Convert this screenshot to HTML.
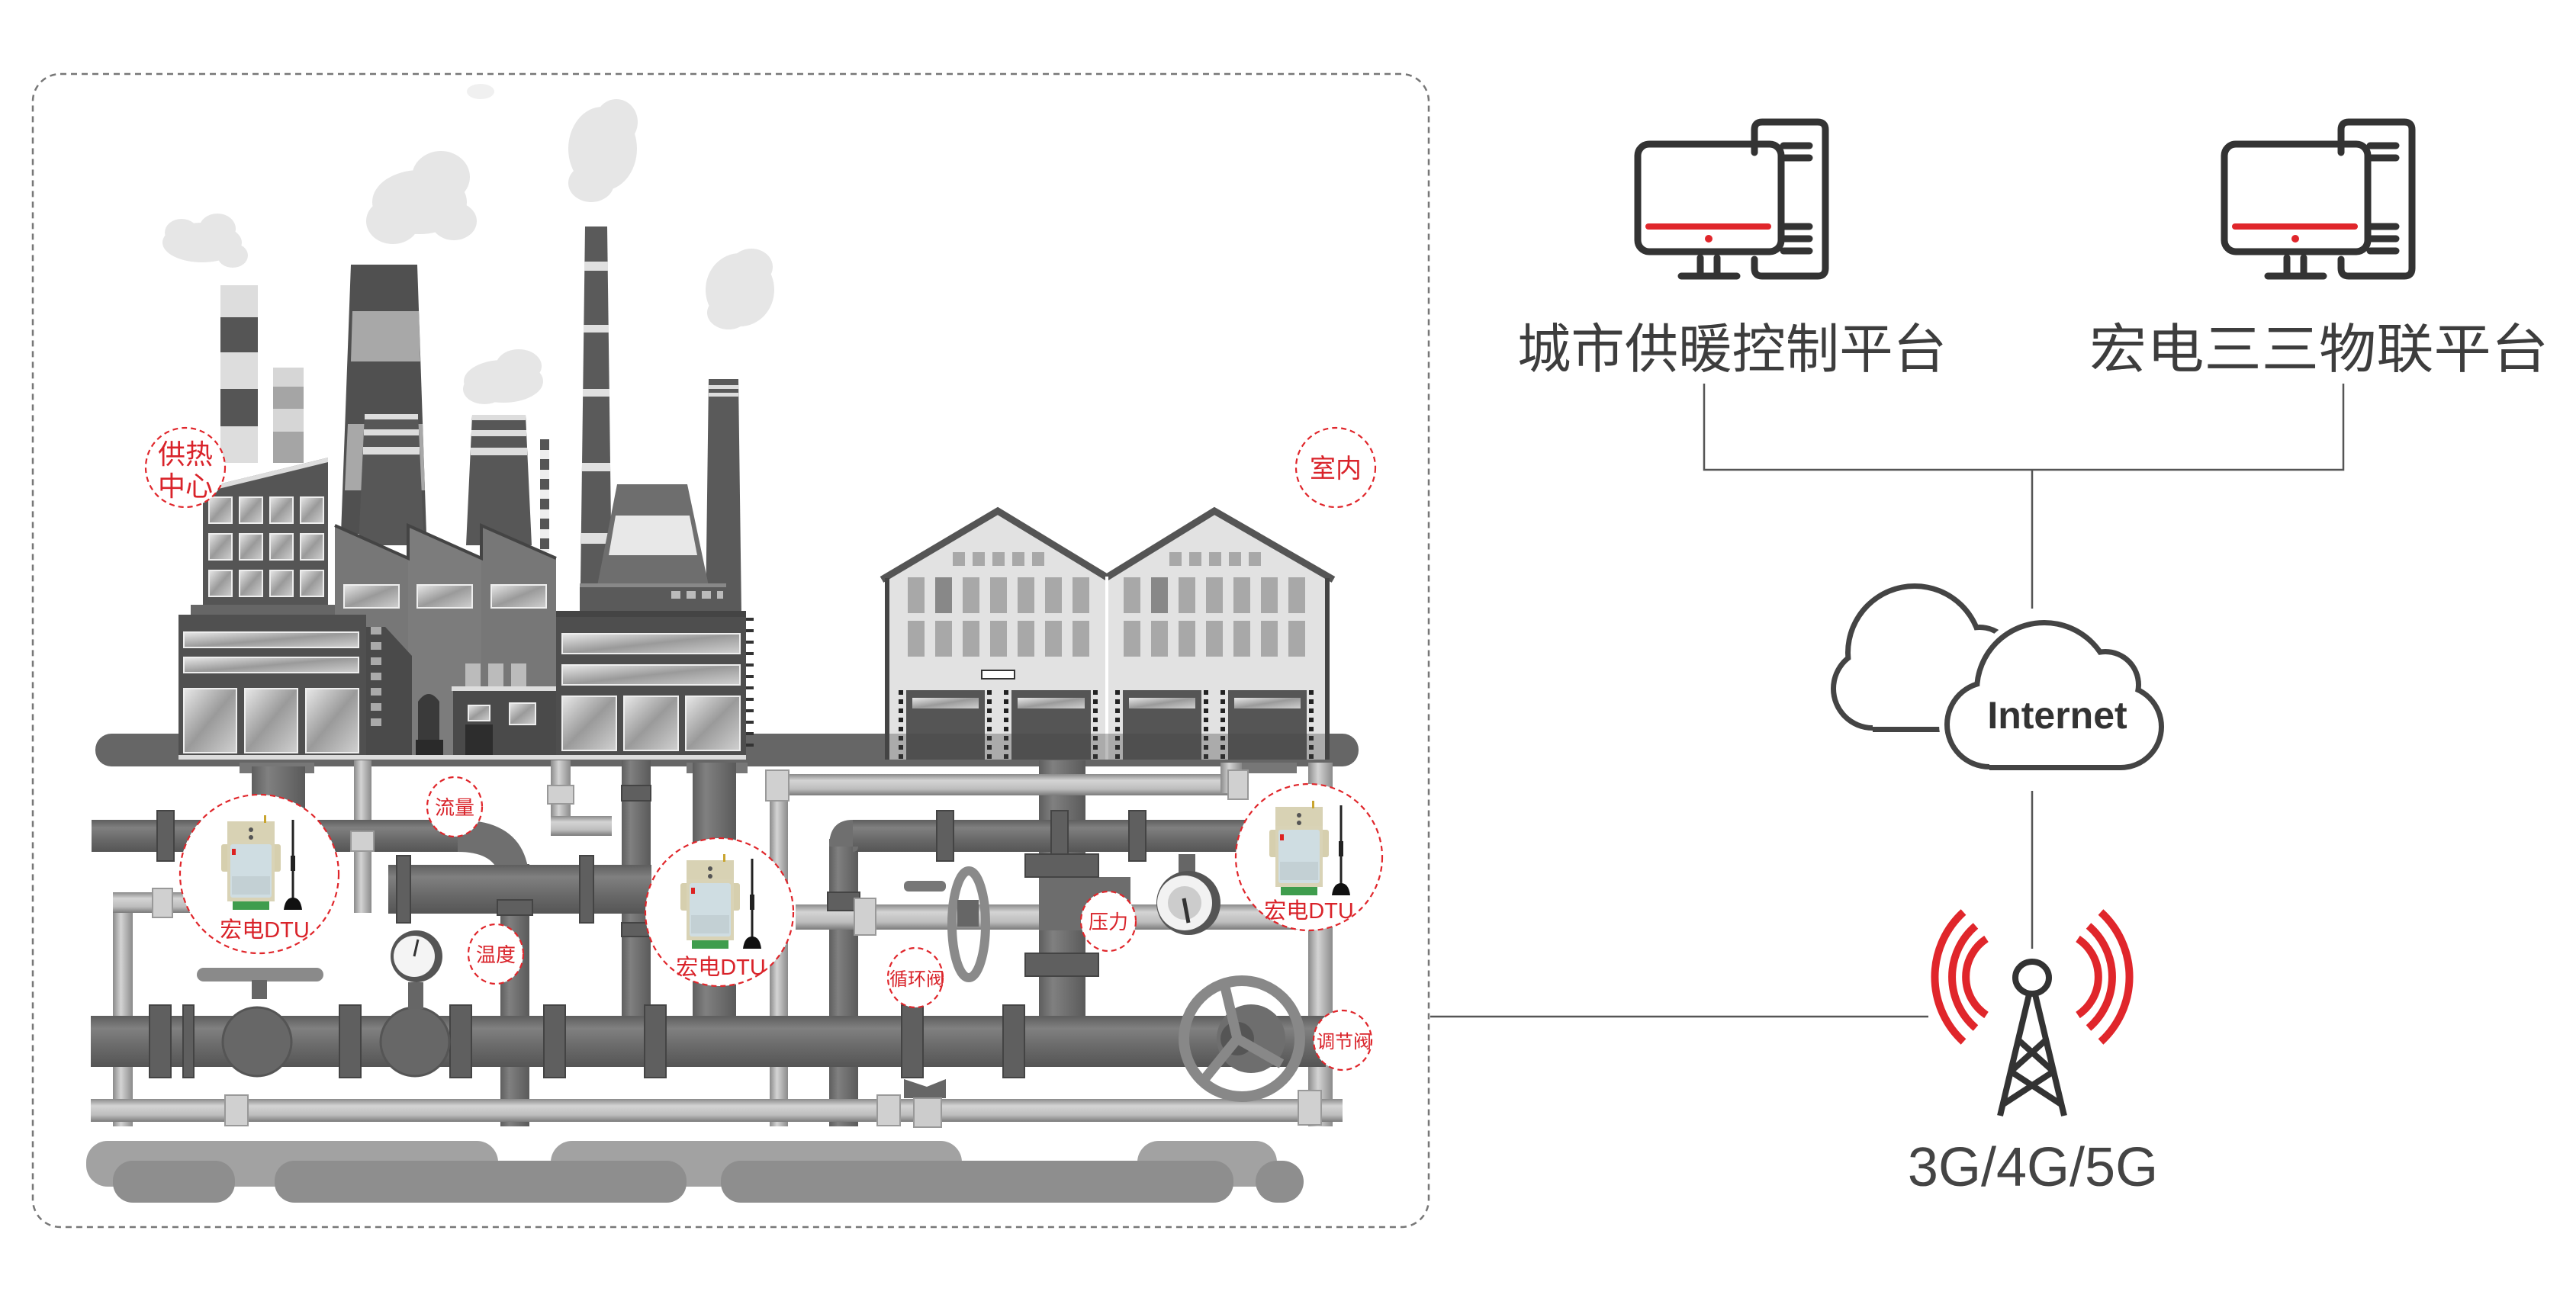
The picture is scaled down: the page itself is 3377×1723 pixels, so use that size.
<!DOCTYPE html>
<html><head><meta charset="utf-8"><style>
html,body{margin:0;padding:0;background:#fff;}
svg{display:block;}
text{font-family:"Liberation Sans","Noto Sans CJK SC",sans-serif;}
</style></head><body>
<svg width="3377" height="1723" viewBox="0 0 3377 1723" xmlns="http://www.w3.org/2000/svg">
<defs>
<linearGradient id="win" x1="0" y1="0" x2="1" y2="1"><stop offset="0" stop-color="#e8e8e8"/><stop offset="0.5" stop-color="#9a9a9a"/><stop offset="1" stop-color="#d0d0d0"/></linearGradient>
<linearGradient id="dp" x1="0" y1="0" x2="0" y2="1"><stop offset="0" stop-color="#5e5e5e"/><stop offset="0.25" stop-color="#808080"/><stop offset="0.6" stop-color="#6a6a6a"/><stop offset="1" stop-color="#555"/></linearGradient>
<linearGradient id="dpv" x1="0" y1="0" x2="1" y2="0"><stop offset="0" stop-color="#5e5e5e"/><stop offset="0.3" stop-color="#808080"/><stop offset="1" stop-color="#5a5a5a"/></linearGradient>
<linearGradient id="lp" x1="0" y1="0" x2="0" y2="1"><stop offset="0" stop-color="#8a8a8a"/><stop offset="0.3" stop-color="#d4d4d4"/><stop offset="0.7" stop-color="#bdbdbd"/><stop offset="1" stop-color="#7a7a7a"/></linearGradient>
<linearGradient id="lpv" x1="0" y1="0" x2="1" y2="0"><stop offset="0" stop-color="#8a8a8a"/><stop offset="0.4" stop-color="#d4d4d4"/><stop offset="1" stop-color="#8a8a8a"/></linearGradient>
<g id="dtu">
<rect x="0" y="0" width="62" height="30" fill="#d8d2b4" stroke="#bbb3928" stroke-width="1"/>
<rect x="-8" y="30" width="78" height="36" rx="3" fill="#d6cfae"/>
<rect x="0" y="25" width="62" height="80" fill="#d9d3b6"/>
<rect x="4" y="30" width="54" height="70" rx="3" fill="#cfdde2"/>
<rect x="6" y="36" width="5" height="8" fill="#d22"/>
<rect x="6" y="72" width="50" height="24" fill="#c3d0d4"/>
<circle cx="31" cy="11" r="3" fill="#555"/><circle cx="31" cy="21" r="3" fill="#555"/>
<rect x="7" y="105" width="48" height="11" fill="#3f9d4d"/>
<rect x="48" y="-8" width="3" height="10" fill="#c9a530"/>
<line x1="86" y1="-2" x2="86" y2="105" stroke="#222" stroke-width="3"/>
<rect x="83" y="45" width="6" height="20" fill="#222"/>
<path d="M74,116 Q76,100 86,100 Q96,100 98,116 Z" fill="#111"/>
</g>
</defs>

<!-- dashed container -->
<rect x="43" y="97" width="1830" height="1512" rx="36" fill="none" stroke="#777" stroke-width="2.5" stroke-dasharray="8 6"/>

<!-- clouds left -->
<g fill="#e6e6e6">
<ellipse cx="265" cy="318" rx="52" ry="26"/><ellipse cx="238" cy="305" rx="22" ry="18"/><ellipse cx="285" cy="300" rx="24" ry="20"/><ellipse cx="305" cy="335" rx="20" ry="16"/>
<ellipse cx="550" cy="265" rx="62" ry="42"/><ellipse cx="578" cy="232" rx="38" ry="34"/><ellipse cx="515" cy="290" rx="35" ry="30"/><ellipse cx="595" cy="290" rx="30" ry="25"/>
<ellipse cx="790" cy="195" rx="45" ry="55"/><ellipse cx="808" cy="160" rx="28" ry="30"/><ellipse cx="775" cy="240" rx="30" ry="25"/>
<ellipse cx="660" cy="500" rx="52" ry="28"/><ellipse cx="680" cy="480" rx="30" ry="22"/><ellipse cx="635" cy="510" rx="28" ry="20"/>
<ellipse cx="970" cy="380" rx="45" ry="48"/><ellipse cx="985" cy="350" rx="28" ry="24"/><ellipse cx="955" cy="410" rx="28" ry="22"/>
<ellipse cx="630" cy="120" rx="18" ry="10" fill="#f0f0f0"/>
</g>

<!-- chimneys -->
<g>
<rect x="289" y="374" width="49" height="233" fill="#ddd"/>
<rect x="289" y="416" width="49" height="46" fill="#555"/><rect x="289" y="510" width="49" height="49" fill="#555"/>
<rect x="358" y="482" width="40" height="125" fill="#d6d6d6"/>
<rect x="358" y="507" width="40" height="29" fill="#a5a5a5"/><rect x="358" y="566" width="40" height="41" fill="#a5a5a5"/>
<polygon points="460,347 547,347 559,700 447,700" fill="#505050"/>
<polygon points="462,408 549,408 551,474 460,474" fill="#a8a8a8"/>
<polygon points="456,556 554,556 557,643 452,643" fill="#a8a8a8"/>
<polygon points="478,543 548,543 556,715 470,715" fill="#575757"/>
<rect x="478" y="543" width="70" height="7" fill="#ddd"/><rect x="477" y="563" width="72" height="8" fill="#ddd"/><rect x="476" y="586" width="74" height="10" fill="#ddd"/>
<polygon points="619,544 689,544 697,715 611,715" fill="#575757"/>
<rect x="619" y="544" width="70" height="7" fill="#ddd"/><rect x="618" y="564" width="72" height="8" fill="#ddd"/><rect x="617" y="587" width="74" height="10" fill="#ddd"/>
<rect x="708" y="576" width="12" height="148" fill="#eee"/>
<rect x="708" y="576" width="12" height="14" fill="#555"/><rect x="708" y="602" width="12" height="14" fill="#555"/><rect x="708" y="628" width="12" height="14" fill="#555"/><rect x="708" y="654" width="12" height="14" fill="#555"/><rect x="708" y="680" width="12" height="14" fill="#555"/><rect x="708" y="706" width="12" height="14" fill="#555"/>
<polygon points="767,297 796,297 802,765 761,765" fill="#5a5a5a"/>
<rect x="766" y="343" width="31" height="12" fill="#e0e0e0"/><rect x="765" y="426" width="33" height="10" fill="#e0e0e0"/><rect x="764" y="510" width="35" height="10" fill="#e0e0e0"/><rect x="763" y="607" width="37" height="11" fill="#e0e0e0"/><rect x="762" y="699" width="39" height="14" fill="#e0e0e0"/>
<polygon points="929,497 968,497 972,805 925,805" fill="#5a5a5a"/>
<rect x="929" y="505" width="39" height="5" fill="#ddd"/><rect x="929" y="515" width="39" height="5" fill="#ddd"/>
<polygon points="809,635 901,635 929,768 783,768" fill="#6e6e6e"/>
<polygon points="807,676 904,676 914,728 798,728" fill="#e8e8e8"/>
<rect x="760" y="765" width="192" height="38" fill="#5a5a5a"/>
<rect x="760" y="765" width="192" height="5" fill="#888"/>
<rect x="880" y="775" width="12" height="10" fill="#bbb"/><rect x="900" y="775" width="12" height="10" fill="#bbb"/><rect x="920" y="775" width="12" height="10" fill="#bbb"/><rect x="940" y="775" width="8" height="10" fill="#bbb"/>
</g>

<!-- ground bar -->
<rect x="125" y="962" width="1656" height="43" rx="21" fill="#666"/>

<!-- buildings -->
<polygon points="266,640 430,600 430,795 266,795" fill="#555"/>
<polygon points="266,640 430,600 430,606 266,646" fill="#ddd"/>
<g fill="url(#win)" stroke="#eee" stroke-width="2">
<rect x="274" y="652" width="30" height="34"/><rect x="314" y="652" width="30" height="34"/><rect x="354" y="652" width="30" height="34"/><rect x="394" y="652" width="30" height="34"/>
<rect x="274" y="700" width="30" height="34"/><rect x="314" y="700" width="30" height="34"/><rect x="354" y="700" width="30" height="34"/><rect x="394" y="700" width="30" height="34"/>
<rect x="274" y="748" width="30" height="34"/><rect x="314" y="748" width="30" height="34"/><rect x="354" y="748" width="30" height="34"/><rect x="394" y="748" width="30" height="34"/>
</g>
<rect x="250" y="793" width="213" height="15" fill="#666"/>
<!-- sawtooth shed -->
<polygon points="439,689 535,732 535,995 439,995" fill="#777"/>
<polygon points="535,689 631,732 631,995 535,995" fill="#7c7c7c"/>
<polygon points="631,689 729,732 729,995 631,995" fill="#777"/>
<polyline points="439,689 535,732 535,689 631,732 631,689 729,732" fill="none" stroke="#444" stroke-width="4"/>
<g fill="url(#win)" stroke="#eee" stroke-width="2"><rect x="451" y="767" width="72" height="30"/><rect x="547" y="767" width="72" height="30"/><rect x="644" y="767" width="72" height="30"/></g>
<!-- lower left -->
<rect x="234" y="806" width="246" height="190" fill="#505050"/>
<g fill="url(#win)" stroke="#eee" stroke-width="2">
<rect x="241" y="829" width="229" height="20"/><rect x="241" y="862" width="229" height="20"/>
<rect x="241" y="903" width="69" height="84"/><rect x="321" y="903" width="69" height="84"/><rect x="401" y="903" width="69" height="84"/>
</g>
<polygon points="480,822 505,822 540,860 540,995 480,995" fill="#4a4a4a"/>
<g fill="#aaa"><rect x="486" y="822" width="14" height="10"/><rect x="486" y="842" width="14" height="10"/><rect x="486" y="862" width="14" height="10"/><rect x="486" y="882" width="14" height="10"/><rect x="486" y="902" width="14" height="10"/><rect x="486" y="922" width="14" height="10"/><rect x="486" y="942" width="14" height="10"/></g>
<path d="M548,995 L548,920 Q562,900 576,920 L576,995 Z" fill="#3a3a3a"/>
<rect x="545" y="970" width="36" height="25" fill="#2a2a2a"/>
<!-- small middle -->
<rect x="594" y="905" width="137" height="91" fill="#4a4a4a"/>
<rect x="592" y="900" width="141" height="6" fill="#ddd"/>
<g fill="#bbb"><rect x="610" y="870" width="20" height="30"/><rect x="640" y="870" width="20" height="30"/><rect x="670" y="870" width="20" height="30"/></g>
<g fill="url(#win)" stroke="#eee" stroke-width="2"><rect x="614" y="925" width="28" height="20"/><rect x="668" y="922" width="34" height="28"/></g>
<rect x="610" y="950" width="36" height="46" fill="#2d2d2d"/>
<!-- right building -->
<rect x="729" y="808" width="249" height="188" fill="#4e4e4e"/>
<rect x="729" y="801" width="249" height="8" fill="#444"/>
<g fill="url(#win)" stroke="#eee" stroke-width="2">
<rect x="737" y="831" width="233" height="26"/><rect x="737" y="872" width="233" height="26"/>
<rect x="737" y="913" width="71" height="71"/><rect x="818" y="913" width="71" height="71"/><rect x="899" y="913" width="71" height="71"/>
</g>
<g fill="#333"><rect x="978" y="810" width="10" height="4"/><rect x="978" y="825" width="10" height="4"/><rect x="978" y="840" width="10" height="4"/><rect x="978" y="855" width="10" height="4"/><rect x="978" y="870" width="10" height="4"/><rect x="978" y="885" width="10" height="4"/><rect x="978" y="900" width="10" height="4"/><rect x="978" y="915" width="10" height="4"/><rect x="978" y="930" width="10" height="4"/><rect x="978" y="945" width="10" height="4"/><rect x="978" y="960" width="10" height="4"/><rect x="978" y="975" width="10" height="4"/></g>
<rect x="234" y="990" width="744" height="6" fill="#ddd"/>

<!-- warehouse -->
<polygon points="1160,758 1308,668 1451,755 1592,668 1743,758 1743,996 1160,996" fill="#e2e2e2"/>
<polyline points="1156,760 1308,670 1451,757 1592,670 1748,760" fill="none" stroke="#555" stroke-width="9"/>
<rect x="1160" y="758" width="6" height="238" fill="#444"/><rect x="1737" y="758" width="6" height="238" fill="#444"/>
<rect x="1449" y="756" width="4" height="240" fill="#fff"/>
<g fill="#a8a8a8">
<rect x="1249" y="724" width="16" height="18"/><rect x="1275" y="724" width="16" height="18"/><rect x="1301" y="724" width="16" height="18"/><rect x="1327" y="724" width="16" height="18"/><rect x="1353" y="724" width="16" height="18"/>
<rect x="1533" y="724" width="16" height="18"/><rect x="1559" y="724" width="16" height="18"/><rect x="1585" y="724" width="16" height="18"/><rect x="1611" y="724" width="16" height="18"/><rect x="1637" y="724" width="16" height="18"/>
</g>
<g fill="#a8a8a8">
<rect x="1190" y="757" width="22" height="47"/><rect x="1226" y="757" width="22" height="47" fill="#888"/><rect x="1262" y="757" width="22" height="47"/><rect x="1298" y="757" width="22" height="47"/><rect x="1334" y="757" width="22" height="47"/><rect x="1370" y="757" width="22" height="47"/><rect x="1406" y="757" width="22" height="47"/>
<rect x="1473" y="757" width="22" height="47"/><rect x="1509" y="757" width="22" height="47" fill="#888"/><rect x="1545" y="757" width="22" height="47"/><rect x="1581" y="757" width="22" height="47"/><rect x="1617" y="757" width="22" height="47"/><rect x="1653" y="757" width="22" height="47"/><rect x="1689" y="757" width="22" height="47"/>
<rect x="1190" y="814" width="22" height="47"/><rect x="1226" y="814" width="22" height="47"/><rect x="1262" y="814" width="22" height="47"/><rect x="1298" y="814" width="22" height="47"/><rect x="1334" y="814" width="22" height="47"/><rect x="1370" y="814" width="22" height="47"/><rect x="1406" y="814" width="22" height="47"/>
<rect x="1473" y="814" width="22" height="47"/><rect x="1509" y="814" width="22" height="47"/><rect x="1545" y="814" width="22" height="47"/><rect x="1581" y="814" width="22" height="47"/><rect x="1617" y="814" width="22" height="47"/><rect x="1653" y="814" width="22" height="47"/><rect x="1689" y="814" width="22" height="47"/>
</g>
<rect x="1287" y="879" width="43" height="11" fill="#fff" stroke="#333" stroke-width="2"/>
<g fill="#555">
<rect x="1188" y="905" width="103" height="91"/><rect x="1326" y="905" width="104" height="91"/><rect x="1472" y="905" width="103" height="91"/><rect x="1610" y="905" width="103" height="91"/>
</g>
<g fill="none" stroke="#222" stroke-width="6" stroke-dasharray="6 6">
<line x1="1181" y1="905" x2="1181" y2="996"/><line x1="1297" y1="905" x2="1297" y2="996"/><line x1="1319" y1="905" x2="1319" y2="996"/><line x1="1436" y1="905" x2="1436" y2="996"/>
<line x1="1465" y1="905" x2="1465" y2="996"/><line x1="1581" y1="905" x2="1581" y2="996"/><line x1="1603" y1="905" x2="1603" y2="996"/><line x1="1719" y1="905" x2="1719" y2="996"/>
</g>
<g fill="url(#win)"><rect x="1196" y="915" width="87" height="14"/><rect x="1334" y="915" width="88" height="14"/><rect x="1480" y="915" width="87" height="14"/><rect x="1618" y="915" width="87" height="14"/></g>
<rect x="1160" y="962" width="583" height="34" fill="#444" opacity="0.35"/>

<!-- pipes -->
<g>
<!-- supports under buildings -->
<rect x="314" y="1000" width="98" height="14" fill="#777"/><rect x="900" y="1000" width="80" height="14" fill="#777"/><rect x="1620" y="1000" width="80" height="14" fill="#777"/>
<!-- verticals -->
<rect x="330" y="1005" width="70" height="75" fill="url(#dpv)"/>
<rect x="464" y="997" width="23" height="200" fill="url(#lpv)"/>
<rect x="722" y="997" width="26" height="95" fill="url(#lpv)"/>
<rect x="722" y="1070" width="80" height="26" fill="url(#lp)"/>
<rect x="815" y="997" width="38" height="355" fill="url(#dpv)"/>
<rect x="908" y="1000" width="57" height="350" fill="url(#dpv)"/>
<rect x="656" y="1133" width="38" height="344" fill="url(#dpv)"/>
<rect x="148" y="1170" width="26" height="307" fill="url(#lpv)"/>
<rect x="148" y="1170" width="102" height="27" fill="url(#lp)"/>
<rect x="1009" y="1015" width="24" height="462" fill="url(#lpv)"/>
<rect x="1087" y="1100" width="38" height="377" fill="url(#dpv)"/>
<rect x="1362" y="997" width="61" height="400" fill="url(#dpv)"/>
<rect x="1715" y="1000" width="32" height="477" fill="url(#lpv)"/>
<!-- horizontals -->
<rect x="1009" y="1015" width="608" height="28" fill="url(#lp)"/>
<rect x="1600" y="1000" width="28" height="40" fill="url(#lpv)"/>
<rect x="120" y="1075" width="481" height="42" fill="url(#dp)"/>
<path d="M600,1075 Q694,1075 694,1160 L656,1160 Q656,1117 600,1117 Z" fill="#6f6f6f"/>
<rect x="1118" y="1075" width="516" height="42" fill="url(#dp)"/>
<path d="M1118,1075 Q1087,1075 1087,1110 L1125,1110 Q1125,1117 1118,1117 Z" fill="#6f6f6f"/>
<rect x="509" y="1134" width="345" height="64" fill="url(#dp)"/>
<rect x="1043" y="1186" width="660" height="33" fill="url(#lp)"/>
<rect x="1362" y="1150" width="120" height="70" fill="#6d6d6d"/>
<rect x="119" y="1332" width="1619" height="67" fill="url(#dp)"/>
<rect x="119" y="1441" width="1641" height="30" fill="url(#lp)"/>
<!-- flanges -->
<g fill="#5f5f5f" stroke="#444" stroke-width="2">
<rect x="196" y="1318" width="28" height="95"/><rect x="240" y="1318" width="14" height="95"/>
<rect x="445" y="1318" width="28" height="95"/><rect x="590" y="1318" width="28" height="95"/>
<rect x="713" y="1318" width="28" height="95"/><rect x="845" y="1318" width="28" height="95"/>
<rect x="1182" y="1318" width="28" height="95"/><rect x="1315" y="1318" width="28" height="95"/>
<rect x="520" y="1122" width="18" height="88"/><rect x="760" y="1122" width="18" height="88"/>
<rect x="206" y="1063" width="22" height="66"/><rect x="1228" y="1063" width="22" height="66"/><rect x="1378" y="1063" width="22" height="66"/><rect x="1480" y="1063" width="22" height="66"/>
<rect x="1344" y="1120" width="96" height="30"/><rect x="1344" y="1250" width="96" height="30"/>
<rect x="815" y="1030" width="38" height="20"/><rect x="815" y="1210" width="38" height="18"/>
<rect x="652" y="1180" width="46" height="20"/><rect x="1085" y="1170" width="42" height="24"/>
</g>
<!-- light couplings -->
<g fill="#d0d0d0" stroke="#999" stroke-width="2">
<rect x="295" y="1436" width="30" height="40"/><rect x="1150" y="1436" width="30" height="40"/><rect x="1702" y="1430" width="30" height="45"/>
<rect x="1005" y="1180" width="28" height="45"/><rect x="1120" y="1178" width="28" height="48"/>
<rect x="200" y="1165" width="26" height="38"/><rect x="1004" y="1010" width="30" height="40"/><rect x="1610" y="1010" width="26" height="38"/>
<rect x="460" y="1090" width="30" height="26"/><rect x="718" y="1030" width="34" height="24"/>
</g>
<!-- valves on main pipe -->
<rect x="258" y="1269" width="166" height="18" rx="9" fill="#8a8a8a"/>
<rect x="330" y="1285" width="20" height="25" fill="#666"/>
<circle cx="337" cy="1366" r="45" fill="#676767" stroke="#555" stroke-width="3"/>
<circle cx="544" cy="1366" r="45" fill="#676767" stroke="#555" stroke-width="3"/>
<rect x="535" y="1288" width="20" height="35" fill="#666"/>
<circle cx="546" cy="1254" r="34" fill="#555"/><circle cx="543" cy="1254" r="27" fill="#f4f4f4"/>
<line x1="543" y1="1254" x2="548" y2="1232" stroke="#333" stroke-width="3"/>
<!-- circulation valve -->
<ellipse cx="1270" cy="1212" rx="22" ry="70" fill="none" stroke="#8a8a8a" stroke-width="12"/>
<rect x="1255" y="1180" width="28" height="35" fill="#666"/>
<rect x="1185" y="1155" width="55" height="14" rx="6" fill="#777"/>
<!-- pressure gauge -->
<rect x="1545" y="1120" width="22" height="40" fill="#666"/>
<circle cx="1558" cy="1184" r="42" fill="#555"/><circle cx="1553" cy="1184" r="36" fill="#f2f2f2"/><circle cx="1553" cy="1184" r="22" fill="#ccc"/>
<line x1="1552" y1="1178" x2="1558" y2="1210" stroke="#333" stroke-width="5"/>
<!-- ball valve bottom -->
<path d="M1185,1415 L1215,1425 L1240,1415 L1240,1440 L1185,1440 Z" fill="#666"/>
<rect x="1198" y="1440" width="36" height="38" fill="#ccc" stroke="#999" stroke-width="2"/>
<!-- handwheel -->
<circle cx="1628" cy="1362" r="76" fill="none" stroke="#888" stroke-width="14"/>
<circle cx="1640" cy="1362" r="45" fill="#6e6e6e"/>
<circle cx="1622" cy="1362" r="22" fill="#555"/>
<g stroke="#888" stroke-width="13"><line x1="1622" y1="1362" x2="1605" y2="1290"/><line x1="1622" y1="1362" x2="1680" y2="1395"/><line x1="1622" y1="1362" x2="1575" y2="1420"/></g>
</g>

<!-- ground blobs -->
<g fill="#a2a2a2"><rect x="113" y="1496" width="540" height="60" rx="28"/><rect x="722" y="1496" width="539" height="60" rx="28"/><rect x="1491" y="1496" width="183" height="60" rx="28"/></g>
<g fill="#8e8e8e"><rect x="148" y="1522" width="160" height="55" rx="26"/><rect x="360" y="1522" width="540" height="55" rx="26"/><rect x="945" y="1522" width="672" height="55" rx="26"/><rect x="1646" y="1522" width="63" height="55" rx="28"/></g>

<!-- red labels -->
<g fill="#fff" stroke="#e0262b" stroke-width="2.2" stroke-dasharray="7 5">
<circle cx="243" cy="613" r="52"/><circle cx="1751" cy="613" r="52"/>
<ellipse cx="596" cy="1058" rx="36" ry="39"/><ellipse cx="650" cy="1251" rx="36" ry="39"/>
<ellipse cx="1200" cy="1282" rx="36" ry="39"/><ellipse cx="1453" cy="1208" rx="36" ry="39"/>
<ellipse cx="1760" cy="1364" rx="38" ry="39"/>
<circle cx="340" cy="1146" r="104"/><circle cx="943" cy="1196" r="97"/><circle cx="1716" cy="1124" r="96"/>
</g>
<use href="#dtu" x="298" y="1077"/>
<use href="#dtu" x="900" y="1128"/>
<use href="#dtu" x="1672" y="1058"/>
<g fill="#d9232a" text-anchor="middle">
<text x="243" y="608" font-size="36">供热</text><text x="243" y="650" font-size="36">中心</text>
<text x="1751" y="626" font-size="34">室内</text>
<text x="596" y="1068" font-size="26">流量</text>
<text x="650" y="1261" font-size="26">温度</text>
<text x="1202" y="1292" font-size="24">循环阀</text>
<text x="1453" y="1218" font-size="26">压力</text>
<text x="1762" y="1374" font-size="24">调节阀</text>
<text x="347" y="1229" font-size="29">宏电DTU</text>
<text x="945" y="1278" font-size="29">宏电DTU</text>
<text x="1716" y="1204" font-size="29">宏电DTU</text>
</g>

<!-- computers -->
<g id="pc" fill="none" stroke="#333" stroke-width="9" stroke-linecap="round">
<path d="M2300,200 L2300,170 Q2300,160 2310,160 L2383,160 Q2393,160 2393,170 L2393,352 Q2393,362 2383,362 L2310,362 Q2300,362 2300,352 L2300,340"/>
<rect x="2147" y="189" width="188" height="141" rx="15"/>
<line x1="2338" y1="191" x2="2372" y2="191"/><line x1="2338" y1="207" x2="2372" y2="207"/>
<line x1="2338" y1="297" x2="2372" y2="297"/><line x1="2338" y1="313" x2="2372" y2="313"/><line x1="2338" y1="329" x2="2372" y2="329"/>
<line x1="2229" y1="338" x2="2229" y2="358"/><line x1="2251" y1="338" x2="2251" y2="358"/>
<line x1="2204" y1="362" x2="2277" y2="362"/>
<line x1="2161" y1="297" x2="2318" y2="297" stroke="#e0262b" stroke-width="8"/>
<circle cx="2240" cy="313" r="3" fill="#e0262b" stroke="#e0262b" stroke-width="4"/>
</g>
<use href="#pc" x="769" y="0"/>
<g fill="#3d3d3d" font-size="70">
<text x="1989" y="482" textLength="563" lengthAdjust="spacingAndGlyphs">城市供暖控制平台</text>
<text x="2739" y="482" textLength="602" lengthAdjust="spacingAndGlyphs">宏电三三物联平台</text>
</g>

<!-- connectors -->
<g stroke="#555" stroke-width="2.5" fill="none">
<polyline points="2234,503 2234,616 3072,616 3072,503"/>
<line x1="2664" y1="616" x2="2664" y2="798"/>
<line x1="2664" y1="1037" x2="2664" y2="1244"/>
<line x1="1875" y1="1333" x2="2528" y2="1333"/>
</g>

<!-- internet cloud -->
<g>
<g fill="#444"><circle cx="2455" cy="903" r="55"/><circle cx="2510" cy="856" r="91"/><circle cx="2595" cy="868" r="49"/><rect x="2455" y="870" width="145" height="90"/></g>
<g fill="#fff"><circle cx="2455" cy="903" r="48"/><circle cx="2510" cy="856" r="84"/><circle cx="2595" cy="868" r="42"/><rect x="2455" y="870" width="145" height="83"/></g>
<g fill="#fff"><circle cx="2608" cy="950" r="66"/><circle cx="2680" cy="905" r="99"/><circle cx="2760" cy="898" r="54"/><circle cx="2780" cy="953" r="64"/><rect x="2608" y="925" width="172" height="92"/></g>
<g fill="#444"><circle cx="2608" cy="950" r="59"/><circle cx="2680" cy="905" r="92"/><circle cx="2760" cy="898" r="47"/><circle cx="2780" cy="953" r="57"/><rect x="2608" y="925" width="172" height="85"/></g>
<g fill="#fff"><circle cx="2608" cy="950" r="52"/><circle cx="2680" cy="905" r="85"/><circle cx="2760" cy="898" r="40"/><circle cx="2780" cy="953" r="50"/><rect x="2608" y="925" width="172" height="78"/></g>
<text x="2697" y="955" font-size="50" font-weight="bold" fill="#333" text-anchor="middle">Internet</text>
</g>

<!-- tower -->
<g fill="none" stroke="#e0262b" stroke-width="10">
<path d="M2604,1231 A60,60 0 0,0 2604,1331"/><path d="M2724,1231 A60,60 0 0,1 2724,1331"/>
<path d="M2590,1214 A88,88 0 0,0 2590,1348"/><path d="M2738,1214 A88,88 0 0,1 2738,1348"/>
<path d="M2574,1196 A115,115 0 0,0 2574,1366"/><path d="M2754,1196 A115,115 0 0,1 2754,1366"/>
</g>
<g fill="none" stroke="#333" stroke-width="8">
<ellipse cx="2664" cy="1282" rx="22" ry="21"/>
<line x1="2660" y1="1304" x2="2622" y2="1463"/><line x1="2668" y1="1304" x2="2706" y2="1463"/>
<line x1="2644" y1="1362" x2="2692" y2="1405"/><line x1="2684" y1="1362" x2="2636" y2="1405"/>
<line x1="2636" y1="1405" x2="2702" y2="1448"/><line x1="2692" y1="1405" x2="2626" y2="1448"/>
</g>
<text x="2665" y="1555" font-size="72" fill="#444" text-anchor="middle">3G/4G/5G</text>
</svg>
</body></html>
